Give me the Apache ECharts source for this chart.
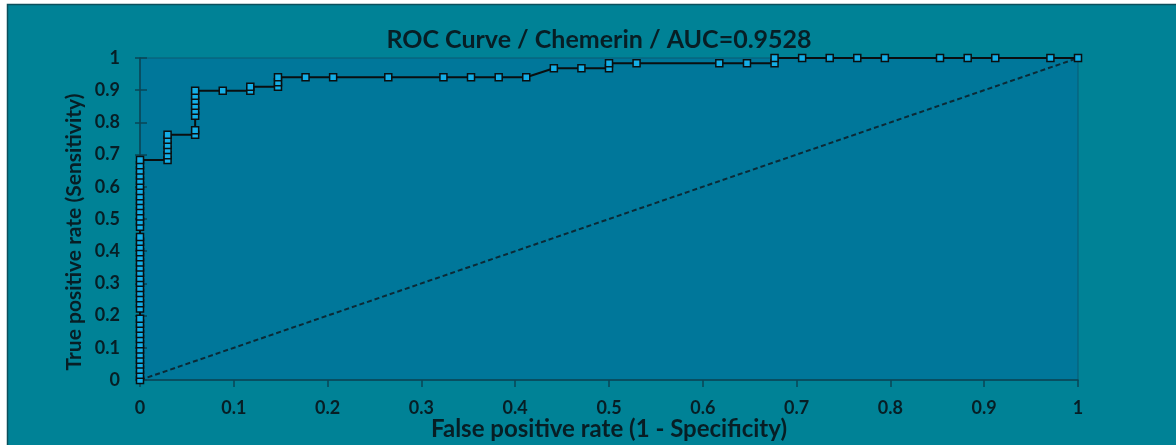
<!DOCTYPE html>
<html><head><meta charset="utf-8">
<script src="https://cdn.jsdelivr.net/npm/echarts@6/dist/echarts.min.js"></script>
<style>html,body{margin:0;padding:0;background:#ffffff;overflow:hidden}#c{width:1176px;height:445px}</style>
</head><body><div id="c"></div>
<script>
const titleText = 'ROC Curve / Chemerin / AUC=0.9528';
const xName = 'False positive rate (1 - Specificity)';
const yName = 'True positive rate (Sensitivity)';
const xTicks = [0, 0.1, 0.2, 0.3, 0.4, 0.5, 0.6, 0.7, 0.8, 0.9, 1];
const yTicks = [0, 0.1, 0.2, 0.3, 0.4, 0.5, 0.6, 0.7, 0.8, 0.9, 1];

// ROC points (1 - specificity, sensitivity)
const fpr = [
  0, 0, 0, 0, 0, 0, 0, 0, 0, 0, 0, 0, 0,
  0, 0, 0, 0, 0, 0, 0, 0, 0, 0, 0, 0, 0, 0, 0,
  0, 0, 0, 0, 0, 0, 0, 0, 0, 0, 0, 0, 0, 0,
  0.0294, 0.0294, 0.0294, 0.0294, 0.0294, 0.0294,
  0.0588, 0.0588, 0.0588, 0.0588, 0.0588, 0.0588, 0.0588, 0.0588,
  0.0882,
  0.1176, 0.1176,
  0.1471, 0.1471, 0.1471,
  0.1765, 0.2059, 0.2647, 0.3235, 0.3529, 0.3824, 0.4118,
  0.4412, 0.4706,
  0.5, 0.5,
  0.5294, 0.6176, 0.6471,
  0.6765, 0.6765,
  0.7059, 0.7353, 0.7647, 0.7941, 0.8529, 0.8824, 0.9118, 0.9706, 1
];
const tpr = [
  0, 0.016, 0.032, 0.048, 0.063, 0.079, 0.095, 0.111, 0.127, 0.143, 0.159, 0.175, 0.190,
  0.222, 0.238, 0.254, 0.270, 0.286, 0.302, 0.317, 0.333, 0.349, 0.365, 0.381, 0.397, 0.413, 0.429, 0.444,
  0.476, 0.492, 0.508, 0.524, 0.540, 0.556, 0.571, 0.587, 0.603, 0.619, 0.635, 0.651, 0.667, 0.683,
  0.683, 0.698, 0.714, 0.730, 0.746, 0.762,
  0.762, 0.776, 0.821, 0.836, 0.852, 0.867, 0.883, 0.898,
  0.898,
  0.898, 0.911,
  0.911, 0.925, 0.940,
  0.940, 0.940, 0.940, 0.940, 0.940, 0.940, 0.940,
  0.968, 0.968,
  0.968, 0.984,
  0.984, 0.984, 0.984,
  0.984, 1,
  1, 1, 1, 1, 1, 1, 1, 1, 1
];
// chance diagonal
const diagX = [0, 1];
const diagY = [0, 1];

const rocData = fpr.map((x, i) => [x, tpr[i]]);
const diagData = diagX.map((x, i) => [x, diagY[i]]);

const FONT = 'Lato';
const TXT = '#071e25';
const AX = '#0a4656';

const chart = echarts.init(document.getElementById('c'), null, {renderer: 'canvas'});
chart.setOption({
  animation: false,
  backgroundColor: '#ffffff',
  graphic: [{
    type: 'rect', z: -10, silent: true,
    shape: {x: 7.5, y: 4.5, width: 1200, height: 500},
    style: {fill: '#008296', stroke: '#0c4f5c', lineWidth: 1.5}
  }],
  title: {
    text: titleText, left: 594, top: 22, textAlign: 'center',
    textStyle: {fontFamily: FONT, fontWeight: 'bold', fontSize: 25, color: TXT}
  },
  grid: {
    left: 140, top: 58, width: 938, height: 322,
    containLabel: false, outerBoundsMode: 'none',
    show: true, backgroundColor: '#00779a', borderColor: '#0b5a72', borderWidth: 1
  },
  xAxis: {
    type: 'value', min: 0, max: 1, interval: 0.1,
    name: xName, nameLocation: 'middle', nameGap: 37, nameMoveOverlap: false,
    nameTextStyle: {fontFamily: FONT, fontWeight: 'bold', fontSize: 24, color: TXT},
    axisLine: {show: true, lineStyle: {color: AX, width: 1.5}},
    axisTick: {show: true, inside: false, length: 7, lineStyle: {color: AX, width: 1.5}},
    axisLabel: {margin: 19, fontFamily: FONT, fontWeight: 'bold', fontSize: 18, color: TXT,
      alignMinLabel: 'center', alignMaxLabel: 'center',
      formatter: v => { const t = xTicks.find(k => Math.abs(k - v) < 1e-9); return t === undefined ? '' : String(t); }},
    splitLine: {show: false}
  },
  yAxis: [{
    type: 'value', min: 0, max: 1, interval: 0.1, position: 'left',
    name: yName, nameLocation: 'middle', nameGap: 55, nameRotate: 90, nameMoveOverlap: false,
    nameTextStyle: {fontFamily: FONT, fontWeight: 'bold', fontSize: 21, color: TXT, padding: [0, 26, 0, 0]},
    axisLine: {show: true, lineStyle: {color: AX, width: 1.5}},
    axisTick: {show: true, inside: true, length: 7, lineStyle: {color: AX, width: 1.5}},
    axisLabel: {margin: 20, fontFamily: FONT, fontWeight: 'bold', fontSize: 18, color: TXT,
      verticalAlignMinLabel: 'middle', verticalAlignMaxLabel: 'middle',
      formatter: v => { const t = yTicks.find(k => Math.abs(k - v) < 1e-9); return t === undefined ? '' : String(t); }},
    splitLine: {show: false}
  }, {
    type: 'value', min: 0, max: 1, interval: 0.1, position: 'left', offset: 0,
    axisLine: {show: false},
    axisTick: {show: true, inside: false, length: 5, lineStyle: {color: AX, width: 1.5}},
    axisLabel: {show: false},
    splitLine: {show: false}
  }],
  series: [{
    type: 'line', data: diagData, symbol: 'none', silent: true, z: 2,
    lineStyle: {color: '#0b2a36', width: 2, type: [5, 3]}
  }, {
    type: 'line', data: rocData, yAxisIndex: 0, z: 3,
    symbol: 'rect', symbolSize: 7, showAllSymbol: true,
    lineStyle: {color: '#0a0f10', width: 2},
    itemStyle: {color: '#14aee6', borderColor: '#0a0f10', borderWidth: 1.5}
  }]
});
</script>
</body></html>
